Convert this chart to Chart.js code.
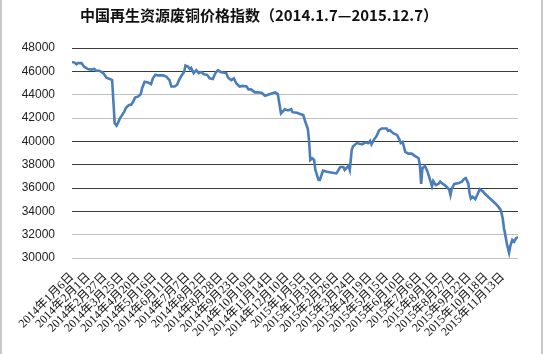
<!DOCTYPE html>
<html>
<head>
<meta charset="utf-8">
<script src="https://cdn.jsdelivr.net/npm/chart.js@4"></script>
<style>
  html, body { margin: 0; padding: 0; background: #fff; }
  #wrap { position: relative; width: 546px; height: 354px; }
  #wrap .edge { position: absolute; top: 0; width: 2px; height: 354px; background: #c8c8c8; }
</style>
</head>
<body>
<div id="wrap">
  <canvas id="chart" width="546" height="354"></canvas>
  <div class="edge" style="left:0"></div>
  <div class="edge" style="left:541px"></div>
</div>
<script>
// タイトル
const chartTitle = "中国再生资源废铜价格指数（2014.1.7—2015.12.7）";

// 横軸の目盛ラベル（26日おき）
const tickLabels = [
  "2014年1月6日", "2014年2月1日", "2014年2月27日", "2014年3月25日", "2014年4月20日",
  "2014年5月16日", "2014年6月11日", "2014年7月7日", "2014年8月2日", "2014年8月28日",
  "2014年9月23日", "2014年10月19日", "2014年11月14日", "2014年12月10日", "2015年1月5日",
  "2015年1月31日", "2015年2月26日", "2015年3月24日", "2015年4月19日", "2015年5月15日",
  "2015年6月10日", "2015年7月6日", "2015年8月1日", "2015年8月27日", "2015年9月22日",
  "2015年10月18日", "2015年11月13日"
];

// 2014年1月6日からの日数
const dayOffsets = [
  0, 4, 7, 9, 15, 19, 25, 30, 35, 38, 43, 49, 54, 59, 63, 67, 70, 72, 75, 78,
  82, 85, 89, 93, 96, 99, 104, 108, 110, 114, 119, 124, 127, 131, 135, 143, 148, 153, 156, 161,
  165, 168, 172, 176, 178, 182, 185, 187, 191, 195, 199, 203, 207, 212, 216, 221, 225, 229, 233, 237,
  242, 245, 250, 254, 258, 263, 268, 274, 277, 281, 287, 292, 298, 303, 311, 319, 323, 328, 334, 339,
  344, 346, 353, 358, 363, 366, 370, 372, 374, 377, 380, 382, 387, 389, 394, 400, 415, 421, 426, 428,
  434, 436, 439, 441, 447, 455, 460, 465, 468, 470, 474, 478, 482, 486, 494, 496, 499, 504, 510, 514,
  516, 519, 523, 528, 533, 538, 544, 546, 548, 550, 554, 558, 562, 565, 567, 571, 575, 578, 582, 585,
  589, 592, 594, 596, 600, 606, 612, 615, 618, 622, 624, 626, 629, 633, 636, 640, 645, 648, 653, 659,
  664, 669, 673, 676, 678, 681, 683, 686, 688, 691, 694, 697, 700
];

// 価格指数
const priceIndex = [
  46800, 46750, 46600, 46700, 46700, 46400, 46200, 46150, 46200, 46050, 46050, 45850, 45450, 45350, 45250, 41550, 41350, 41550, 41950, 42200,
  42550, 42900, 43100, 43150, 43400, 43750, 43850, 44050, 44550, 45100, 45050, 44900, 45400, 45700, 45650, 45650, 45550, 45250, 44700, 44700,
  44850, 45250, 45650, 45950, 46500, 46400, 46200, 46300, 45850, 46100, 45850, 45950, 45750, 45700, 45400, 45350, 45850, 46100, 45950, 45900,
  45850, 45450, 45250, 45400, 44950, 44700, 44750, 44700, 44450, 44450, 44200, 44200, 44150, 43900, 44050, 44200, 44050, 42400, 42750, 42650,
  42750, 42500, 42450, 42350, 42250, 41700, 41100, 40100, 38400, 38550, 38400, 37550, 36700, 36700, 37500, 37400, 37250, 37800, 37800, 37550,
  37900, 37550, 39250, 39550, 39850, 39750, 39900, 39850, 40050, 39750, 40150, 40450, 40950, 41100, 41100, 40900, 40950, 40700, 40550, 40150,
  39850, 39950, 39100, 38950, 38950, 38750, 38550, 37950, 36350, 37700, 37900, 37400, 36700, 36150, 36600, 36250, 36350, 36550, 36350, 36250,
  36050, 35850, 35400, 35950, 36350, 36400, 36550, 36750, 36850, 36400, 35550, 35100, 35250, 35050, 35400, 35900, 35700, 35500, 35250, 34950,
  34700, 34400, 34100, 33400, 32550, 31700, 31100, 30450, 31050, 31550, 31400, 31700, 31800
];

// 縦軸の範囲
const yMin = 30000;
const yMax = 48000;
const yStep = 2000;
const dayMax = 700;

// 日付ラベル → 日数
function labelToDay(label) {
  const m = label.match(/(\d+)年(\d+)月(\d+)日/);
  const t = Date.UTC(+m[1], +m[2] - 1, +m[3]);
  return Math.round((t - Date.UTC(2014, 0, 6)) / 86400000);
}
const tickDays = tickLabels.map(labelToDay);

// 元画像の罫線の濃淡
const darkLines = [48000, 46000, 40000, 38000, 36000, 34000];

const ctx = document.getElementById("chart").getContext("2d");
new Chart(ctx, {
  type: "line",
  data: {
    datasets: [{
      data: dayOffsets.map((d, i) => ({ x: d, y: priceIndex[i] })),
      borderColor: "#4a7ebb",
      borderWidth: 2.6,
      pointRadius: 0,
      tension: 0,
      fill: false,
    }],
  },
  options: {
    responsive: false,
    animation: false,
    layout: { padding: { left: 0, right: 28, top: 0, bottom: 0 } },
    plugins: {
      legend: { display: false },
      tooltip: { enabled: false },
      title: {
        display: true,
        text: chartTitle,
        color: "#111",
        font: { family: "'Noto Sans CJK SC'", size: 15, weight: "bold" },
        padding: { top: 6, bottom: 24 },
      },
    },
    scales: {
      x: {
        type: "linear",
        min: 0,
        max: dayMax,
        grid: { display: false },
        border: { display: false },
        afterBuildTicks: (scale) => {
          scale.ticks = tickDays.map((v) => ({ value: v }));
        },
        afterFit: (scale) => { scale.height = 96; },
        ticks: {
          autoSkip: false,
          minRotation: 45,
          maxRotation: 45,
          padding: 4,
          color: "#111",
          font: { family: "'Liberation Serif', 'Noto Sans CJK SC'", size: 12 },
          callback: (v) => tickLabels[tickDays.indexOf(v)] ?? "",
        },
      },
      y: {
        min: yMin,
        max: yMax,
        border: { display: false },
        afterFit: (scale) => { scale.width = 72; },
        grid: {
          drawTicks: false,
          lineWidth: 1,
          color: (c) => darkLines.includes(c.tick?.value) ? "#3a3a3a" : "#c0c0c0",
        },
        ticks: {
          stepSize: yStep,
          padding: 17,
          color: "#222",
          font: { family: "'Liberation Sans'", size: 12 },
          callback: (v) => String(v),
        },
      },
    },
  },
});
</script>
</body>
</html>
